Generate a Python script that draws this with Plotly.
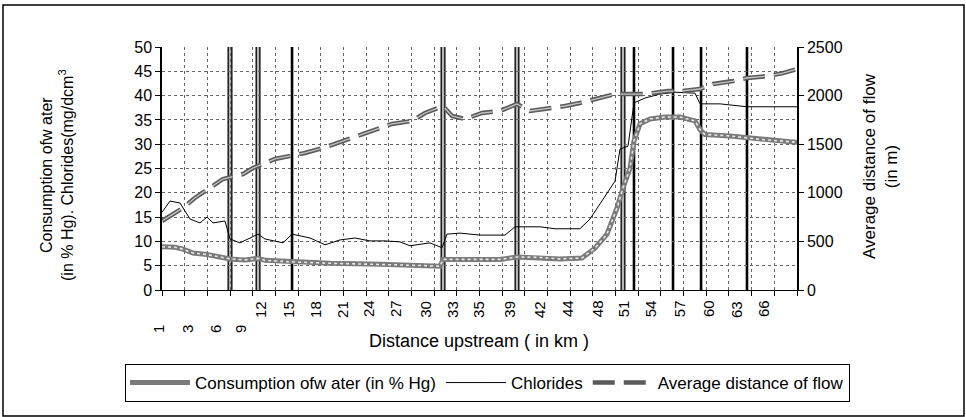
import plotly.graph_objects as go

# ---------------- data ----------------
# Consumption of water (in % Hg) – left axis
cons_km = [1.48, 2.88, 3.74, 4.81, 6.31, 7.5, 8.78, 10.39, 11.79, 12.54, 15.22, 19.52,
           24.89, 28.1, 31.33, 31.65, 34.55, 37.77, 39.59, 42.06, 44.2, 46.57, 47.96,
           49.25, 50.33, 50.97, 51.72, 52.15, 52.8, 53.87, 55.48, 57.09, 58.7, 59.24,
           59.77, 62.46, 65.68, 68.9, 69.65]
cons_val = [8.9, 8.8, 8.4, 7.6, 7.3, 6.9, 6.4, 6.2, 6.5, 6.1, 5.8, 5.5,
            5.3, 5.1, 4.9, 6.3, 6.3, 6.3, 6.8, 6.7, 6.4, 6.6, 8.6,
            11.5, 16.9, 21.0, 25.0, 30.7, 34.2, 35.2, 35.6, 35.6, 34.8, 33.0,
            32.0, 31.7, 31.0, 30.5, 30.4]

# Chlorides (mg/dcm3) – left axis
chl_km = [1.48, 2.34, 3.41, 4.49, 5.56, 6.31, 6.96, 8.24, 8.78, 9.85, 11.79, 12.54,
          14.47, 15.44, 17.37, 18.98, 20.59, 22.2, 23.81, 25.42, 27.03, 28.1, 30.25,
          31.54, 32.08, 33.47, 35.62, 38.3, 39.38, 42.06, 43.67, 46.35, 47.43, 48.5,
          50.11, 50.65, 51.51, 52.15, 53.33, 54.94, 56.55, 58.7, 59.24, 61.39, 64.28,
          69.65]
chl_val = [16.0, 18.3, 17.9, 14.6, 13.8, 15.0, 13.8, 14.2, 10.5, 9.7, 11.5, 10.5,
           9.7, 11.5, 10.7, 9.3, 10.3, 10.7, 10.1, 10.1, 9.9, 9.1, 9.7,
           8.7, 11.5, 11.7, 11.3, 11.3, 13.0, 13.0, 12.6, 12.6, 14.6, 17.7,
           22.4, 29.0, 29.6, 38.5, 39.5, 40.3, 40.7, 40.5, 38.3, 38.3, 37.7,
           37.7]

# Average distance of flow (m) – right axis
flow_km = [1.48, 3.74, 5.0, 6.63, 8.03, 10.18, 11.25, 13.61, 15.44, 16.83, 18.77,
           20.92, 22.42, 24.89, 26.17, 28.32, 29.72, 31.65, 32.62, 34.01, 35.84,
           37.77, 39.59, 40.99, 42.6, 44.75, 46.35, 48.5, 50.11, 52.26, 53.33,
           55.8, 57.3, 59.24, 60.64, 62.79, 64.28, 66.54, 68.15, 69.65]
flow_val = [710, 844, 947, 1049, 1142, 1193, 1255, 1348, 1379, 1410, 1461,
            1533, 1584, 1667, 1708, 1739, 1821, 1893, 1790, 1759, 1821,
            1842, 1914, 1842, 1862, 1893, 1924, 1975, 2016, 2016, 2016,
            2047, 2047, 2068, 2119, 2150, 2181, 2201, 2232, 2273]

# vertical marker lines (km)
weirs_double = [8.78, 11.79, 31.65, 39.59, 50.97]
weirs_solid = [15.44, 52.15, 56.34, 59.35, 64.28]

# category tick labels
upper_labels = ["12", "15", "18", "21", "24", "27", "30", "33", "35", "39", "42",
                "44", "48", "51", "54", "57", "60", "63", "66"]
upper_km = [12.0, 15.0, 17.9, 20.8, 23.6, 26.5, 29.7, 32.6, 35.4, 38.7, 41.95,
            44.96, 48.2, 51.0, 53.9, 57.0, 60.1, 63.1, 66.0]
lower_labels = ["1", "3", "6", "9"]
lower_km = [1.05, 4.17, 7.17, 9.86]

X_RANGE = [1.48, 69.65]
N_GRID = 28

FONT = "Liberation Sans, Arial, sans-serif"


def to_paper(k):
    return (k - X_RANGE[0]) / (X_RANGE[1] - X_RANGE[0])


fig = go.Figure()

fig.add_trace(go.Scatter(x=cons_km, y=cons_val, mode="lines",
                         name="Consumption ofw ater (in % Hg)", legendgroup="c",
                         line=dict(color="#7a7a7a", width=5)))
fig.add_trace(go.Scatter(x=cons_km, y=cons_val, mode="lines", showlegend=False,
                         legendgroup="c", hoverinfo="skip",
                         line=dict(color="#e6e6e6", width=1.6, dash="dot")))
fig.add_trace(go.Scatter(x=chl_km, y=chl_val, mode="lines", name="Chlorides",
                         line=dict(color="black", width=1)))
fig.add_trace(go.Scatter(x=flow_km, y=flow_val, mode="lines", yaxis="y2",
                         name="Average distance of flow", legendgroup="f",
                         line=dict(color="#5a5a5a", width=4.5, dash="22px,9px")))
fig.add_trace(go.Scatter(x=flow_km, y=flow_val, mode="lines", yaxis="y2",
                         showlegend=False, legendgroup="f", hoverinfo="skip",
                         line=dict(color="#c4c4c4", width=1.3, dash="22px,9px")))

shapes = []
for k in weirs_double:
    shapes.append(dict(type="line", xref="x", yref="paper", x0=k, x1=k, y0=0, y1=1,
                       line=dict(color="black", width=5), layer="between"))
    shapes.append(dict(type="line", xref="x", yref="paper", x0=k, x1=k, y0=0, y1=1,
                       line=dict(color="#b5b5b5", width=2.4), layer="between"))
for k in weirs_solid:
    shapes.append(dict(type="line", xref="x", yref="paper", x0=k, x1=k, y0=0, y1=1,
                       line=dict(color="black", width=2.6), layer="between"))
# outer frame
shapes.append(dict(type="rect", xref="paper", yref="paper",
                   x0=(3 - 162) / 635, x1=(964 - 162) / 635,
                   y0=(290 - 416) / 243, y1=(290 - 5) / 243,
                   line=dict(color="black", width=1.5), layer="below"))

annotations = []
for lab, k in zip(upper_labels, upper_km):
    annotations.append(dict(text=lab, x=to_paper(k), xref="paper", y=0, yref="paper",
                            yshift=-19, showarrow=False, textangle=-90,
                            xanchor="center", yanchor="middle",
                            font=dict(size=15, color="black")))
for lab, k in zip(lower_labels, lower_km):
    annotations.append(dict(text=lab, x=to_paper(k), xref="paper", y=0, yref="paper",
                            yshift=-39, showarrow=False, textangle=-90,
                            xanchor="center", yanchor="middle",
                            font=dict(size=15, color="black")))
annotations.append(dict(text="Distance upstream ( in km )", xref="paper", yref="paper",
                        x=(479 - 162) / 635, y=(290 - 341) / 243, showarrow=False,
                        xanchor="center", yanchor="middle",
                        font=dict(size=18, color="black")))
annotations.append(dict(text="Consumption ofw ater<br>(in % Hg). Chlorides(mg/dcm<sup>3</sup>",
                        xref="paper", yref="paper", x=(57 - 162) / 635,
                        y=(290 - 175) / 243, showarrow=False, textangle=-90,
                        xanchor="center", yanchor="middle",
                        font=dict(size=16, color="black")))
annotations.append(dict(text="Average distance of flow<br>(in m)",
                        xref="paper", yref="paper", x=(880 - 162) / 635,
                        y=(290 - 166) / 243, showarrow=False, textangle=-90,
                        xanchor="center", yanchor="middle",
                        font=dict(size=17, color="black")))

fig.update_layout(
    width=966, height=417,
    margin=dict(l=162, r=169, t=47, b=127),
    paper_bgcolor="white", plot_bgcolor="white",
    font=dict(family=FONT, color="black", size=16),
    showlegend=True,
    legend=dict(orientation="h", x=(125 - 162) / 635, y=(290 - 364) / 243,
                xanchor="left", yanchor="top", bordercolor="black", borderwidth=1,
                font=dict(size=17), itemwidth=60, bgcolor="white"),
    xaxis=dict(range=X_RANGE, tickmode="linear", tick0=X_RANGE[0],
               dtick=(X_RANGE[1] - X_RANGE[0]) / N_GRID,
               showticklabels=False, ticks="outside", ticklen=5, tickcolor="black",
               showline=True, linecolor="black", linewidth=1,
               showgrid=True, gridcolor="#666666", griddash="dot", gridwidth=1,
               zeroline=False),
    yaxis=dict(range=[0, 50], dtick=5, ticks="outside", ticklen=5, tickcolor="black",
               showline=True, linecolor="black", linewidth=1.5,
               showgrid=True, gridcolor="#666666", griddash="dot", gridwidth=1,
               zeroline=False, tickfont=dict(size=16)),
    yaxis2=dict(range=[0, 2500], dtick=500, overlaying="y", side="right",
                ticks="outside", ticklen=5, tickcolor="black",
                showline=True, linecolor="black", linewidth=1.5,
                showgrid=False, zeroline=False, tickfont=dict(size=16)),
    shapes=shapes,
    annotations=annotations,
)

fig.write_html("out.html", config={"displayModeBar": False},
               post_script="document.body.style.margin='0px';")
